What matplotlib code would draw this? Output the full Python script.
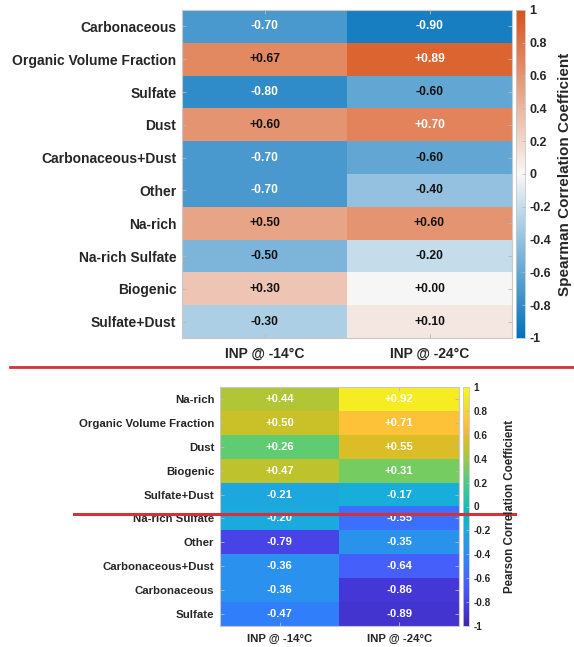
import matplotlib
matplotlib.use("Agg")
import matplotlib.pyplot as plt
import numpy as np
from matplotlib.colors import LinearSegmentedColormap
from matplotlib.lines import Line2D

plt.rcParams['font.family'] = ['Liberation Sans', 'DejaVu Sans']
plt.rcParams['font.weight'] = 'bold'

col_labels = ['INP @ -14°C', 'INP @ -24°C']

# Spearman correlations
spear_rows = ['Carbonaceous', 'Organic Volume Fraction', 'Sulfate', 'Dust',
              'Carbonaceous+Dust', 'Other', 'Na-rich', 'Na-rich Sulfate',
              'Biogenic', 'Sulfate+Dust']
spear_m14 = [-0.70, 0.67, -0.80, 0.60, -0.70, -0.70, 0.50, -0.50, 0.30, -0.30]
spear_m24 = [-0.90, 0.89, -0.60, 0.70, -0.60, -0.40, 0.60, -0.20, 0.00, 0.10]

# Pearson correlations
pears_rows = ['Na-rich', 'Organic Volume Fraction', 'Dust', 'Biogenic',
              'Sulfate+Dust', 'Na-rich Sulfate', 'Other', 'Carbonaceous+Dust',
              'Carbonaceous', 'Sulfate']
pears_m14 = [0.44, 0.50, 0.26, 0.47, -0.21, -0.20, -0.79, -0.36, -0.36, -0.47]
pears_m24 = [0.92, 0.71, 0.55, 0.31, -0.17, -0.55, -0.35, -0.64, -0.86, -0.89]

cbar_ticks = [-1, -0.8, -0.6, -0.4, -0.2, 0, 0.2, 0.4, 0.6, 0.8, 1]

# diverging blue-white-orange map
bwo = LinearSegmentedColormap.from_list(
    'bwo', [(0.0, 0.447, 0.741), (0.97, 0.97, 0.97), (0.851, 0.325, 0.098)])

# parula, 64 entries
parula_data = [
    [0.2422, 0.1504, 0.6603], [0.2504, 0.1650, 0.7076], [0.2578, 0.1818, 0.7511],
    [0.2647, 0.1978, 0.7952], [0.2706, 0.2147, 0.8364], [0.2751, 0.2342, 0.8710],
    [0.2783, 0.2559, 0.8991], [0.2803, 0.2782, 0.9221], [0.2813, 0.3006, 0.9414],
    [0.2810, 0.3228, 0.9579], [0.2795, 0.3447, 0.9717], [0.2760, 0.3667, 0.9829],
    [0.2699, 0.3892, 0.9906], [0.2602, 0.4123, 0.9952], [0.2440, 0.4358, 0.9988],
    [0.2206, 0.4603, 0.9973], [0.1963, 0.4847, 0.9892], [0.1834, 0.5074, 0.9798],
    [0.1786, 0.5289, 0.9682], [0.1764, 0.5499, 0.9520], [0.1687, 0.5703, 0.9359],
    [0.1540, 0.5902, 0.9218], [0.1460, 0.6091, 0.9079], [0.1380, 0.6276, 0.8973],
    [0.1248, 0.6459, 0.8883], [0.1113, 0.6635, 0.8763], [0.0952, 0.6798, 0.8598],
    [0.0689, 0.6948, 0.8394], [0.0297, 0.7082, 0.8163], [0.0036, 0.7203, 0.7917],
    [0.0067, 0.7312, 0.7660], [0.0433, 0.7411, 0.7394], [0.0964, 0.7500, 0.7120],
    [0.1408, 0.7584, 0.6842], [0.1717, 0.7670, 0.6554], [0.1938, 0.7758, 0.6251],
    [0.2161, 0.7843, 0.5923], [0.2470, 0.7918, 0.5567], [0.2906, 0.7973, 0.5188],
    [0.3406, 0.8008, 0.4789], [0.3909, 0.8029, 0.4354], [0.4456, 0.8024, 0.3909],
    [0.5044, 0.7993, 0.3480], [0.5616, 0.7942, 0.3045], [0.6174, 0.7876, 0.2612],
    [0.6720, 0.7793, 0.2227], [0.7242, 0.7698, 0.1910], [0.7738, 0.7598, 0.1646],
    [0.8203, 0.7498, 0.1535], [0.8634, 0.7406, 0.1596], [0.9035, 0.7330, 0.1774],
    [0.9393, 0.7288, 0.2100], [0.9728, 0.7298, 0.2394], [0.9956, 0.7434, 0.2371],
    [0.9970, 0.7659, 0.2199], [0.9952, 0.7893, 0.2028], [0.9892, 0.8136, 0.1885],
    [0.9786, 0.8386, 0.1766], [0.9676, 0.8639, 0.1643], [0.9610, 0.8890, 0.1537],
    [0.9597, 0.9135, 0.1423], [0.9628, 0.9373, 0.1265], [0.9691, 0.9606, 0.1064],
    [0.9769, 0.9839, 0.0805]]
parula = LinearSegmentedColormap.from_list('parula', parula_data)

W, H = 574, 647
fig = plt.figure(figsize=(W / 100, H / 100), dpi=100)


def px_rect(x0, y0, x1, y1):
    return [x0 / W, 1 - y1 / H, (x1 - x0) / W, (y1 - y0) / H]


def heatmap(ax, cax, rows, c1, c2, cmap, tick_fs, val_fs, cb_fs, lab_fs,
            cb_label, text_color, lab_x):
    data = np.column_stack([c1, c2])
    im = ax.imshow(data, cmap=cmap, vmin=-1, vmax=1, aspect='auto')
    for i in range(data.shape[0]):
        for j in range(data.shape[1]):
            v = data[i, j]
            ax.text(j, i, f'{v:+.2f}', ha='center', va='center',
                    fontsize=val_fs, fontweight='bold', color=text_color(v))
    ax.set_xticks(range(2))
    ax.set_xticklabels(col_labels, fontsize=tick_fs, fontweight='bold',
                       color='#262626')
    ax.set_yticks(range(len(rows)))
    ax.set_yticklabels(rows, fontsize=tick_fs, fontweight='bold',
                       color='#262626')
    ax.tick_params(direction='in', length=3, width=0.6, color='#b8b8b8',
                   top=True, right=True, pad=4)
    ax.tick_params(axis='x', pad=6)
    for s in ax.spines.values():
        s.set_color('#c8c8c8')
        s.set_linewidth(0.8)

    cb = fig.colorbar(im, cax=cax)
    cb.set_ticks(cbar_ticks)
    cb.set_ticklabels([f'{t:g}' for t in cbar_ticks])
    cb.ax.tick_params(direction='in', length=2.5, width=0.6, color='#b8b8b8',
                      labelsize=cb_fs, pad=3, labelcolor='#262626')
    for t in cb.ax.get_yticklabels():
        t.set_fontweight('bold')
    cb.outline.set_edgecolor('#c8c8c8')
    cb.outline.set_linewidth(0.6)
    pos = cax.get_position()
    fig.text(lab_x / W, pos.y0 + pos.height / 2, cb_label, rotation=90,
             ha='center', va='center', fontsize=lab_fs, fontweight='bold',
             color='#262626')


# Spearman panel
ax1 = fig.add_axes(px_rect(182, 10, 512, 338))
cax1 = fig.add_axes(px_rect(516, 10, 525, 338))
heatmap(ax1, cax1, spear_rows, spear_m14, spear_m24, bwo,
        tick_fs=10, val_fs=8.7, cb_fs=9, lab_fs=11,
        cb_label='Spearman Correlation Coefficient',
        text_color=lambda v: 'white' if abs(v) >= 0.695 else '#111111',
        lab_x=565)

# Pearson panel
ax2 = fig.add_axes(px_rect(220, 387, 459, 626))
cax2 = fig.add_axes(px_rect(463, 387, 469, 626))
heatmap(ax2, cax2, pears_rows, pears_m14, pears_m24, parula,
        tick_fs=8.2, val_fs=8.1, cb_fs=7.2, lab_fs=8.3,
        cb_label='Pearson Correlation Coefficient',
        text_color=lambda v: 'white',
        lab_x=510)

# red separator lines
red = '#d0343a'
fig.add_artist(Line2D([10 / W, 1.0], [1 - 366.5 / H] * 2,
                      transform=fig.transFigure, color=red, linewidth=2))
fig.add_artist(Line2D([74 / W, 515 / W], [1 - 514 / H] * 2,
                      transform=fig.transFigure, color=red, linewidth=2.2))

fig.savefig('out.png', dpi=100, facecolor='white')
